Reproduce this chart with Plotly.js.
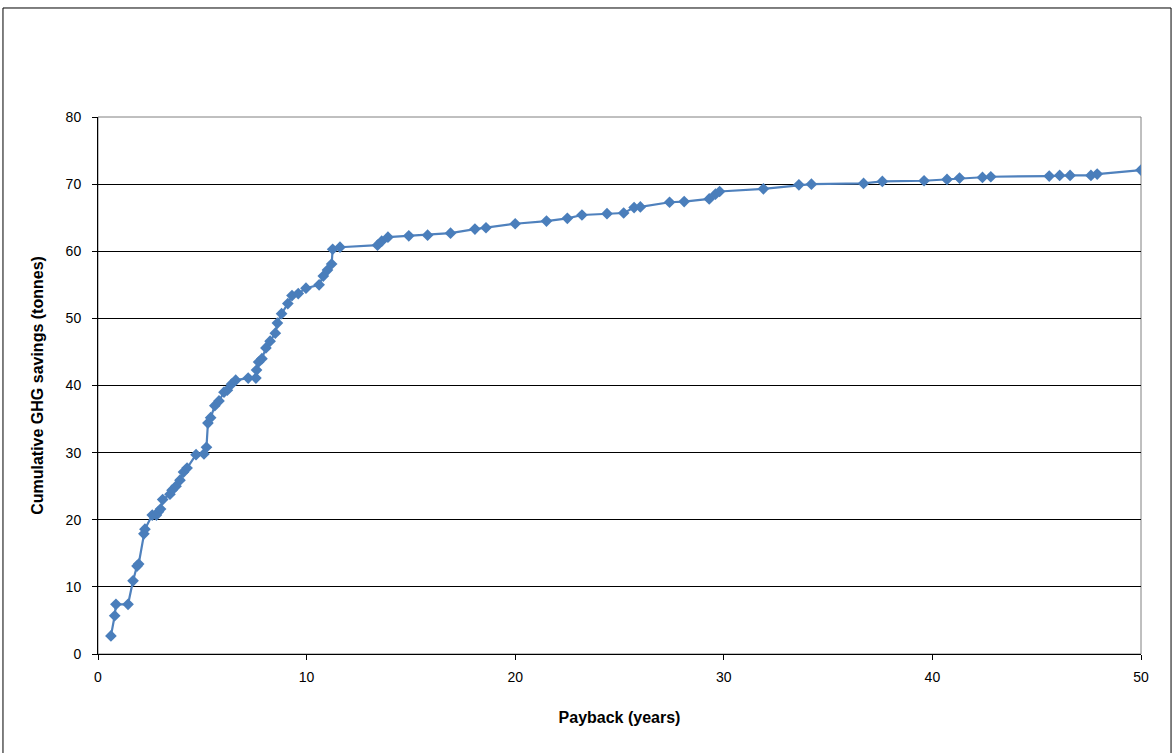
<!DOCTYPE html>
<html>
<head>
<meta charset="utf-8">
<script src="https://cdn.plot.ly/plotly-3.0.1.min.js"></script>
<style>
html,body{margin:0;padding:0;background:#fff;}
#chart{width:1174px;height:753px;}
</style>
</head>
<body>
<div id="chart"></div>
<script>
// Payback (years)
const payback = [0.62, 0.8, 0.86, 1.44, 1.68, 1.87, 1.95, 2.2, 2.25, 2.6, 2.8, 2.9, 3.0, 3.1, 3.45, 3.55, 3.74, 3.93, 4.1, 4.27, 4.7, 5.08, 5.2, 5.27, 5.4, 5.6, 5.8, 6.04, 6.2, 6.4, 6.6, 7.2, 7.57, 7.6, 7.7, 7.86, 8.05, 8.25, 8.5, 8.6, 8.8, 9.1, 9.3, 9.6, 9.97, 10.6, 10.8, 11.0, 11.2, 11.25, 11.6, 13.4, 13.6, 13.9, 14.9, 15.8, 16.9, 18.07, 18.6, 20.0, 21.5, 22.5, 23.2, 24.4, 25.2, 25.7, 26.0, 27.4, 28.1, 29.3, 29.6, 29.8, 31.9, 33.6, 34.2, 36.7, 37.6, 39.6, 40.7, 41.3, 42.4, 42.8, 45.6, 46.1, 46.6, 47.6, 47.9, 50.0];
// Cumulative GHG savings (tonnes)
const savings = [2.7, 5.7, 7.4, 7.4, 10.9, 13.1, 13.4, 17.9, 18.6, 20.7, 20.7, 21.2, 21.6, 23.0, 23.8, 24.4, 25.0, 25.9, 27.1, 27.7, 29.7, 29.8, 30.8, 34.4, 35.2, 37.0, 37.7, 39.0, 39.3, 40.2, 40.8, 41.1, 41.1, 42.3, 43.5, 44.0, 45.6, 46.6, 47.8, 49.3, 50.7, 52.2, 53.4, 53.7, 54.5, 55.0, 56.3, 57.2, 58.1, 60.3, 60.6, 60.9, 61.5, 62.1, 62.3, 62.4, 62.7, 63.3, 63.5, 64.1, 64.5, 64.9, 65.4, 65.6, 65.7, 66.5, 66.6, 67.3, 67.4, 67.8, 68.5, 68.9, 69.3, 69.9, 70.0, 70.1, 70.4, 70.5, 70.7, 70.9, 71.0, 71.1, 71.2, 71.3, 71.3, 71.3, 71.5, 72.1];

const xTicks = [0, 10, 20, 30, 40, 50];
const yTicks = [0, 10, 20, 30, 40, 50, 60, 70, 80];

const trace = {
  x: payback,
  y: savings,
  type: 'scatter',
  mode: 'lines+markers',
  line: {color: '#4F81BD', width: 2.2},
  marker: {symbol: 'diamond', size: 9, color: '#4A7EBB', line: {color: '#4A7EBB', width: 0}},
  hoverinfo: 'x+y'
};

const layout = {
  width: 1174,
  height: 753,
  margin: {l: 98, r: 33, t: 117, b: 99},
  paper_bgcolor: '#ffffff',
  plot_bgcolor: '#ffffff',
  showlegend: false,
  font: {family: 'Liberation Sans, Arial, sans-serif', color: '#000', size: 14},
  xaxis: {
    range: [0, 50],
    tickvals: xTicks,
    ticktext: xTicks.map(String),
    ticks: 'outside',
    ticklen: 5,
    tickcolor: '#000',
    showline: true,
    linecolor: '#000',
    linewidth: 1,
    showgrid: false,
    zeroline: false,
    tickfont: {size: 14},
    ticklabelstandoff: 5,
    title: {text: 'Payback (years)', font: {size: 16, family: 'Liberation Sans, Arial, sans-serif', weight: 'bold'}, standoff: 28}
  },
  yaxis: {
    range: [0, 80],
    tickvals: yTicks,
    ticktext: yTicks.map(String),
    ticks: 'outside',
    ticklen: 5,
    tickcolor: '#000',
    showline: true,
    linecolor: '#000',
    linewidth: 1,
    showgrid: true,
    gridcolor: '#000',
    gridwidth: 1,
    zeroline: false,
    tickfont: {size: 14},
    ticklabelstandoff: 8,
    title: {text: 'Cumulative GHG savings (tonnes)', font: {size: 16, family: 'Liberation Sans, Arial, sans-serif', weight: 'bold'}, standoff: 18}
  },
  shapes: [
    {type: 'rect', xref: 'paper', yref: 'paper', x0: 0, x1: 1, y0: 0, y1: 1, line: {color: '#808080', width: 1}, fillcolor: 'rgba(0,0,0,0)', layer: 'below'},
    {type: 'rect', xref: 'paper', yref: 'paper', x0: -0.0911, x1: 1.0288, y0: -0.2, y1: 1.203, line: {color: '#000', width: 1}, fillcolor: 'rgba(0,0,0,0)'}
  ]
};

Plotly.newPlot('chart', [trace], layout, {staticPlot: true, displayModeBar: false});
</script>
</body>
</html>
